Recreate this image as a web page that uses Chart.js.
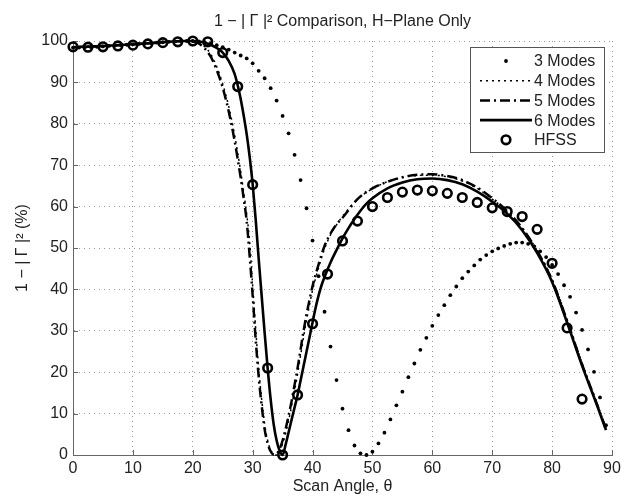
<!DOCTYPE html>
<html>
<head>
<meta charset="utf-8">
<script src="https://cdn.jsdelivr.net/npm/chart.js@4.4.0/dist/chart.umd.min.js"></script>
<style>
  html, body { margin: 0; padding: 0; background: #fff; }
</style>
</head>
<body>
<canvas id="chart1" width="630" height="496"></canvas>
<script>
// values (scan angle in degrees, 1-|G|^2 in %)

const xTicks = [0, 10, 20, 30, 40, 50, 60, 70, 80, 90];
const yTicks = [0, 10, 20, 30, 40, 50, 60, 70, 80, 90, 100];

const threeModeAngles = [0, 1, 2, 3, 4, 5, 6, 7, 8, 9,
                         10, 11, 12, 13, 14, 15, 16, 17, 18, 19,
                         20, 21, 22, 23, 24, 25, 26, 27, 28, 29,
                         30, 31, 32, 33, 34, 35, 36, 37, 38, 39,
                         40, 41, 42, 43, 44, 45, 46, 47, 48, 49,
                         50, 51, 52, 53, 54, 55, 56, 57, 58, 59,
                         60, 61, 62, 63, 64, 65, 66, 67, 68, 69,
                         70, 71, 72, 73, 74, 75, 76, 77, 78, 79,
                         80, 81, 82, 83, 84, 85, 86, 87, 88, 89];
const threeModeValues = [98.4, 98.4, 98.5, 98.5, 98.6, 98.7, 98.8, 98.9, 99.0, 99.1,
                         99.2, 99.3, 99.4, 99.5, 99.6, 99.7, 99.8, 99.9, 100, 100,
                         100, 99.9, 99.7, 99.4, 99.0, 98.5, 97.9, 97.2, 96.5, 95.8,
                         94.6, 92.8, 91.0, 88.6, 85.6, 81.9, 77.7, 72.5, 66.4, 59.6,
                         51.8, 43.2, 34.6, 26.2, 18.1, 11.2, 6.0, 2.3, 0.4, 0,
                         0.8, 2.8, 5.4, 8.6, 12.0, 15.3, 18.8, 22.1, 25.4, 28.3,
                         31.2, 33.8, 36.2, 38.6, 40.7, 42.7, 44.3, 45.8, 47.2, 48.3,
                         49.2, 49.9, 50.5, 51.0, 51.3, 51.3, 51.0, 50.4, 49.2, 47.8,
                         45.9, 43.7, 41.0, 38.2, 34.4, 30.2, 25.5, 20.1, 13.9, 7.2];

const fourModeAngles = [0, 5, 10, 15, 20, 21, 22, 23, 24, 25, 26, 27, 27.5, 28, 28.5, 29, 29.5,
                        30, 30.5, 31, 31.5, 32, 32.5, 33, 33.5, 34, 34.5, 35, 35.5, 36, 36.5,
                        37, 37.5, 38, 38.5, 39, 39.5, 40, 41, 42, 43, 44, 45, 47.5, 50, 52.5,
                        55, 57.5, 60, 62.5, 65, 67.5, 70, 72.5, 75, 77.5, 80, 82.5, 85, 87.5, 89];
const fourModeValues = [98.5, 98.8, 99.2, 99.7, 100, 99.6, 98.6, 96.8, 93.8, 89.6, 84.2, 77.2, 73, 68.5, 63.5, 58.2, 51.5,
                        41, 30.5, 21, 13.5, 7.5, 3.5, 1.2, 0.2, 0, 1, 2.6, 5.2, 8.3, 11.8,
                        15.6, 19.6, 24, 28.5, 32.6, 36.3, 39.8, 45.2, 49.8, 53.2, 55.6, 57.6, 61.8, 64.3, 66,
                        67, 67.5, 67.6, 67.2, 66.2, 64.4, 61.8, 58.8, 54.8, 49.4, 42.4, 32.8, 22.2, 12.5, 6.4];

const fiveModeAngles = [0, 5, 10, 15, 19, 20, 21, 22, 23, 24, 25, 26, 27, 27.5, 28, 28.5, 29, 29.5,
                        30, 30.5, 31, 31.5, 32, 32.5, 33, 33.5, 34, 34.5, 35, 35.5, 36, 36.5,
                        37, 37.5, 38, 38.5, 39, 39.5, 40, 41, 42, 43, 44, 45, 47.5, 50, 52.5,
                        55, 57.5, 60, 62.5, 65, 67.5, 70, 72.5, 75, 77.5, 80, 82.5, 85, 87.5, 89];
const fiveModeValues = [98.5, 98.8, 99.2, 99.7, 100, 99.9, 99.4, 98.2, 96.2, 93, 88.7, 83, 75.8, 71.5, 67, 62, 56.5, 48,
                        38.5, 28, 19, 12, 6.2, 2.8, 0.9, 0.1, 0.3, 1.5, 3.5, 6.3, 9.5, 13,
                        17, 21, 25.5, 30, 34, 37.5, 40.8, 46, 50.5, 53.5, 55.7, 57.3, 61.8, 64.4, 66,
                        67.1, 67.7, 67.8, 67.4, 66.4, 64.6, 62, 58.9, 54.8, 49.3, 42.2, 32.4, 21.9, 12.2, 6.2];

const sixModeAngles = [0, 5, 10, 15, 18, 20, 21, 22, 23, 24, 25, 26, 27, 27.5, 28, 28.5, 29, 29.5,
                       30, 30.5, 31, 31.5, 32, 32.5, 33, 33.5, 34, 34.5, 35, 35.5, 36, 36.5,
                       37, 37.5, 38, 38.5, 39, 39.5, 40, 40.5, 41, 41.5, 42, 43, 44, 45, 46, 47, 48, 49,
                       50, 52.5, 55, 57.5, 60, 62.5, 65, 67.5, 70, 72.5, 75, 77.5, 80, 82.5, 85, 87.5, 89];
const sixModeValues = [98.5, 98.8, 99.2, 99.7, 100, 100, 99.9, 99.6, 99.1, 98.3, 97.2, 95.2, 92, 89.3, 86, 82, 77.5, 72,
                       65.4, 57, 47.5, 38.5, 29.5, 21, 13.5, 7.5, 3.5, 1, 0, 2.5, 5.5, 8.5,
                       11.5, 14.5, 18, 21.5, 25, 28.5, 32, 35.5, 38.5, 41, 43, 46.5, 49.5, 52.3, 54.8, 57, 59, 60.7,
                       62, 64.4, 65.8, 66.6, 66.8, 66.4, 65.4, 63.6, 61.2, 58.3, 54.3, 48.8, 41.8, 32, 21.6, 12, 6];

const hfssAngles = [0, 2.5, 5, 7.5, 10, 12.5, 15, 17.5, 20, 22.5, 25, 27.5, 30, 32.5, 35, 37.5, 40,
                    42.5, 45, 47.5, 50, 52.5, 55, 57.5, 60, 62.5, 65, 67.5, 70, 72.5, 75, 77.5, 80, 82.5, 85];
const hfssValues = [98.6, 98.5, 98.6, 98.8, 99.0, 99.3, 99.6, 99.8, 100, 99.8, 97.2, 89, 65.3, 21, 0, 14.5, 31.7,
                    43.7, 51.7, 56.5, 60, 62.2, 63.5, 64, 63.8, 63.2, 62.2, 61, 59.7, 58.8, 57.6, 54.5, 46.3, 30.7, 13.5];

const seriesNames = ['3 Modes', '4 Modes', '5 Modes', '6 Modes', 'HFSS'];

const FONT = 'Liberation Sans, Arial, Helvetica, sans-serif';
const INK = '#222';

function pts(xs, ys) {
    return xs.map((x, i) => ({ x: x, y: ys[i] }));
}

// MATLAB style ticks pointing into the plot
const insideTicks = {
    id: 'insideTicks',
    beforeDatasetsDraw(chart) {
        const { ctx, chartArea, scales } = chart;
        ctx.save();
        ctx.strokeStyle = '#666';
        ctx.lineWidth = 1;
        ctx.beginPath();
        scales.x.ticks.forEach(t => {
            const px = Math.round(scales.x.getPixelForValue(t.value)) + 0.5;
            ctx.moveTo(px, chartArea.bottom);
            ctx.lineTo(px, chartArea.bottom - 5);
        });
        scales.y.ticks.forEach(t => {
            const py = Math.round(scales.y.getPixelForValue(t.value)) + 0.5;
            ctx.moveTo(chartArea.left, py);
            ctx.lineTo(chartArea.left + 5, py);
        });
        ctx.stroke();
        ctx.restore();
    }
};

// boxed legend in the upper right corner, line samples like the original
const boxLegend = {
    id: 'boxLegend',
    afterDraw(chart) {
        const { ctx, chartArea } = chart;
        const w = 134, h = 105;
        const left = chartArea.right - 8 - w;
        const top = chartArea.top + 6;
        const rowH = 19.7;
        ctx.save();
        ctx.fillStyle = '#fff';
        ctx.fillRect(left, top, w, h);
        ctx.strokeStyle = '#555';
        ctx.lineWidth = 1;
        ctx.strokeRect(left + 0.5, top + 0.5, w, h);

        ctx.font = '16px ' + FONT;
        ctx.textBaseline = 'middle';
        ctx.fillStyle = INK;

        chart.data.datasets.forEach((ds, i) => {
            const cy = top + 14 + i * rowH;
            const x1 = left + 10, x2 = left + 62, cx = (x1 + x2) / 2;
            ctx.strokeStyle = '#000';
            ctx.fillStyle = '#000';
            if (ds.showLine) {
                ctx.lineWidth = ds.borderWidth;
                ctx.setLineDash(ds.borderDash || []);
                ctx.beginPath();
                ctx.moveTo(x1, cy);
                ctx.lineTo(x2, cy);
                ctx.stroke();
                ctx.setLineDash([]);
            } else if (ds.pointRadius > 3) {
                ctx.lineWidth = ds.pointBorderWidth;
                ctx.beginPath();
                ctx.arc(cx, cy, ds.pointRadius, 0, Math.PI * 2);
                ctx.stroke();
            } else {
                ctx.beginPath();
                ctx.arc(cx, cy, ds.pointRadius, 0, Math.PI * 2);
                ctx.fill();
            }
            ctx.fillStyle = INK;
            ctx.fillText(ds.label, left + 64, cy + 1);
        });
        ctx.restore();
    }
};

const ctx1 = document.getElementById('chart1').getContext('2d');
new Chart(ctx1, {
    type: 'scatter',
    data: {
        datasets: [{
            label: seriesNames[0],
            data: pts(threeModeAngles, threeModeValues),
            showLine: false,
            pointRadius: 1.9,
            pointBorderWidth: 0,
            pointBackgroundColor: '#000',
            pointBorderColor: '#000'
        }, {
            label: seriesNames[1],
            data: pts(fourModeAngles, fourModeValues),
            showLine: true,
            borderColor: '#000',
            borderWidth: 1.5,
            borderDash: [2, 4],
            pointRadius: 0,
            cubicInterpolationMode: 'monotone'
        }, {
            label: seriesNames[2],
            data: pts(fiveModeAngles, fiveModeValues),
            showLine: true,
            borderColor: '#000',
            borderWidth: 2.5,
            borderDash: [10, 4, 2, 4],
            pointRadius: 0,
            cubicInterpolationMode: 'monotone'
        }, {
            label: seriesNames[3],
            data: pts(sixModeAngles, sixModeValues),
            showLine: true,
            borderColor: '#000',
            borderWidth: 2.6,
            pointRadius: 0,
            cubicInterpolationMode: 'monotone'
        }, {
            label: seriesNames[4],
            data: pts(hfssAngles, hfssValues),
            showLine: false,
            pointRadius: 4.3,
            pointBorderWidth: 2.6,
            pointBorderColor: '#000',
            pointBackgroundColor: 'rgba(0,0,0,0)'
        }]
    },
    options: {
        responsive: false,
        animation: false,
        devicePixelRatio: 1,
        clip: false,
        layout: { padding: { left: 0, right: 18, top: 0, bottom: 0 } },
        plugins: {
            legend: { display: false },
            tooltip: { enabled: false },
            title: {
                display: true,
                fullSize: false,
                text: '1 − | Γ |² Comparison, H−Plane Only',
                color: INK,
                font: { family: FONT, size: 16, weight: 'normal' },
                padding: { top: 12, bottom: 9.8 }
            }
        },
        scales: {
            x: {
                type: 'linear',
                min: 0,
                max: 90,
                afterFit: (scale) => { scale.height = 41; },
                afterBuildTicks: (scale) => { scale.ticks = xTicks.map(v => ({ value: v })); },
                ticks: { color: INK, font: { family: FONT, size: 16 }, padding: 4, maxRotation: 0 },
                grid: { color: '#999', lineWidth: 1, drawTicks: false },
                border: { display: true, color: '#666', width: 1, dash: [1, 4] },
                title: {
                    display: true,
                    text: 'Scan Angle, θ',
                    color: INK,
                    font: { family: FONT, size: 16 },
                    padding: { top: 0, bottom: 0 }
                }
            },
            y: {
                min: 0,
                max: 100,
                afterFit: (scale) => { scale.width = 73; },
                afterBuildTicks: (scale) => { scale.ticks = yTicks.map(v => ({ value: v })); },
                ticks: { color: INK, font: { family: FONT, size: 16 }, padding: 5 },
                grid: { color: '#999', lineWidth: 1, drawTicks: false },
                border: { display: true, color: '#666', width: 1, dash: [1, 4] },
                title: {
                    display: true,
                    text: '1 − | Γ |² (%)',
                    color: INK,
                    font: { family: FONT, size: 16 },
                    padding: { top: 13, bottom: 0 }
                }
            }
        }
    },
    plugins: [insideTicks, boxLegend]
});
</script>
</body>
</html>
